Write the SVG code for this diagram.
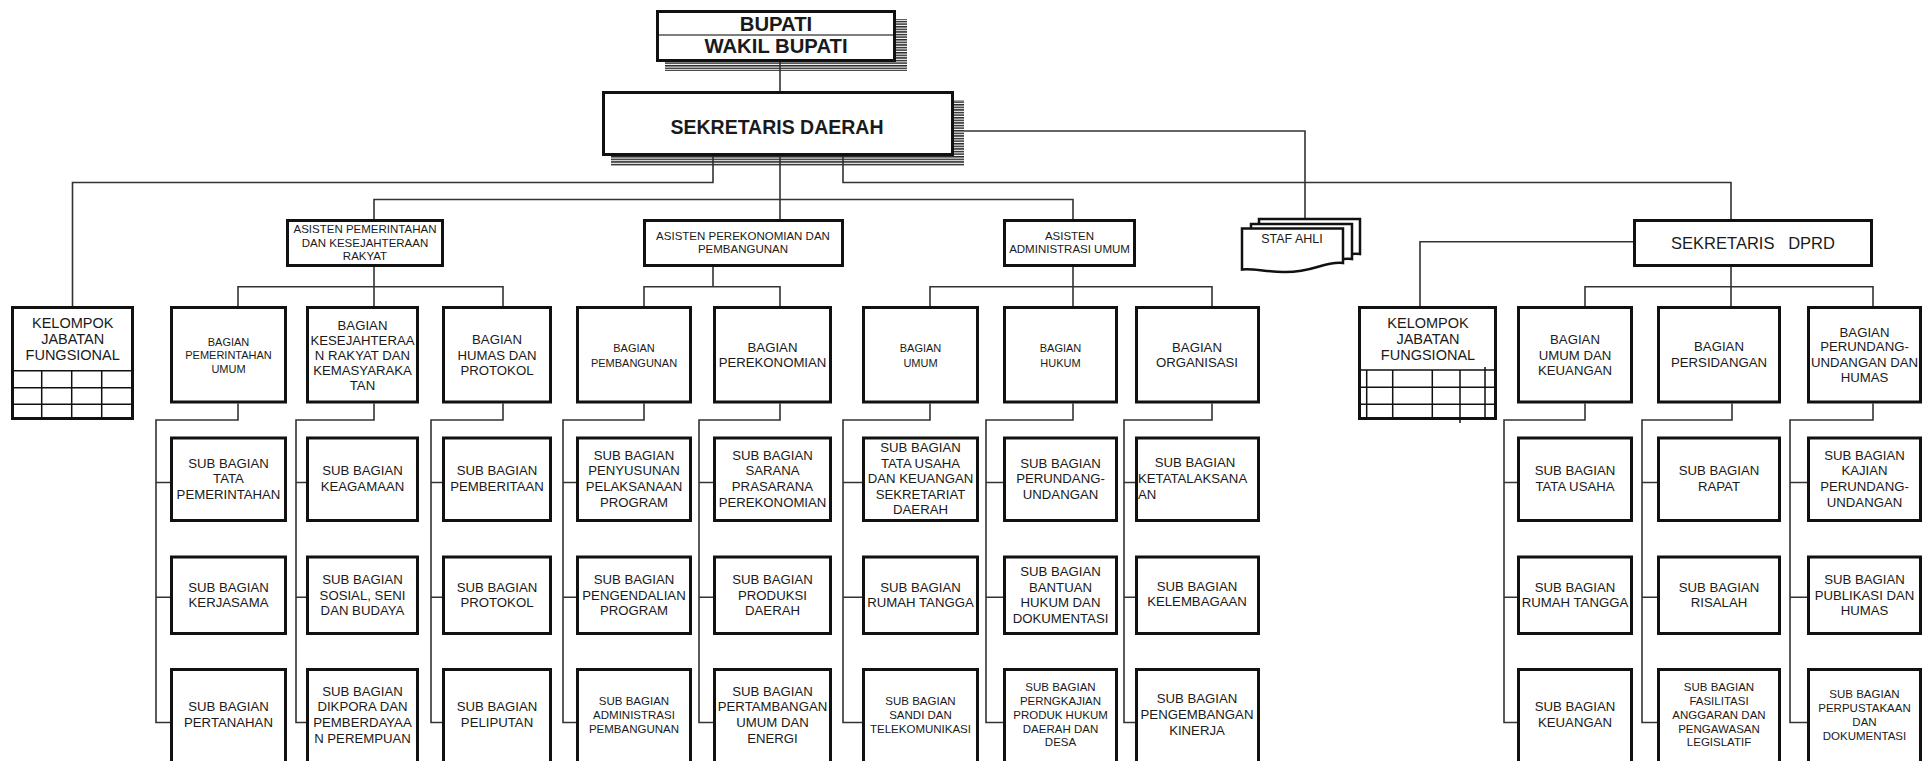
<svg xmlns="http://www.w3.org/2000/svg" width="1929" height="761" viewBox="0 0 1929 761">
<defs>
<pattern id="hatch" width="4" height="2.6" patternUnits="userSpaceOnUse"><rect width="4" height="1.5" fill="#2a2a2a"/></pattern>
<style>
.box{fill:#fff;stroke:#111;stroke-width:3}
.ln{fill:none;stroke:#333;stroke-width:1.6}
.gr{fill:none;stroke:#111;stroke-width:1.5}
.doc{fill:#fff;stroke:#111;stroke-width:2.5}
text{font-family:"Liberation Sans",Arial,sans-serif;fill:#1a1a1a;text-anchor:middle}
.b{font-weight:bold;font-size:20.3px}
.h{font-weight:bold;font-size:19.5px}
.a{font-size:11.5px}
.s{font-size:11.5px}
.m{font-size:13.2px}
.k{font-size:14.5px}
.d{font-size:16.5px}
</style>
</defs>
<rect width="1929" height="761" fill="#fff"/>

<g id="connectors" class="ln">
<path d="M780,62V91"/>
<path d="M713,156V182.5H72.5V306"/>
<path d="M843,156V182.5H1731V219"/>
<path d="M964,131H1305V219"/>
<path d="M780,156V219"/>
<path d="M374,219V199.5H1073V219"/>
<path d="M374,267V306M238,306V286.7H503V306"/>
<path d="M713,267V286.7M644,306V286.7H780V306"/>
<path d="M1073,267V306M930,306V286.7H1212V306"/>
<path d="M1633,241.7H1420V306M1731,267V306M1585,306V286.7H1873V306"/>
<path d="M238,403.5V420H156V722.5H170M156,482.5H170M156,597.3H170"/>
<path d="M374,403.5V420H296V722.5H306M296,482.5H306M296,597.3H306"/>
<path d="M503,403.5V420H431V722.5H442M431,482.5H442M431,597.3H442"/>
<path d="M644,403.5V420H563V722.5H576M563,482.5H576M563,597.3H576"/>
<path d="M780,403.5V420H699V722.5H713M699,482.5H713M699,597.3H713"/>
<path d="M930,403.5V420H843V722.5H862M843,482.5H862M843,597.3H862"/>
<path d="M1073,403.5V420H986V722.5H1003M986,482.5H1003M986,597.3H1003"/>
<path d="M1212,403.5V420H1124V722.5H1135M1124,482.5H1135M1124,597.3H1135"/>
<path d="M1585,403.5V420H1504V722.5H1517M1504,482.5H1517M1504,597.3H1517"/>
<path d="M1732,403.5V420H1642V722.5H1657M1642,482.5H1657M1642,597.3H1657"/>
<path d="M1873,403.5V420H1790V722.5H1807M1790,482.5H1807M1790,597.3H1807"/>
</g>

<g id="bupati">
<rect x="665" y="19" width="242" height="52" fill="url(#hatch)"/>
<rect class="box" x="657.5" y="11.5" width="237" height="49"/>
<line x1="659" y1="35" x2="893" y2="35" stroke="#555" stroke-width="1.3"/>
<text class="b" x="776" y="30.5">BUPATI</text>
<text class="b" x="776" y="53">WAKIL BUPATI</text>
</g>

<g id="sekda">
<rect x="611" y="100" width="353" height="66" fill="url(#hatch)"/>
<rect class="box" x="603.5" y="92.5" width="349" height="62"/>
<text class="h" x="777" y="134">SEKRETARIS DAERAH</text>
</g>

<g id="staf-ahli">
<path class="doc" d="M1259,219H1360V254C1340,252 1330,262 1300,262C1280,262 1268,258 1259,260Z"/>
<path class="doc" d="M1251,224H1352V259C1332,257 1322,267 1292,267C1272,267 1260,263 1251,265Z"/>
<path class="doc" d="M1242,228.5H1343V263C1323,261 1313,273 1283,272C1263,271.5 1252,268 1242,269.5Z"/>
<text class="m" style="font-size:12.5px" x="1292" y="242.5">STAF AHLI</text>
</g>

<g id="kjf-1">
<rect class="box" x="12.5" y="307.5" width="120" height="111"/>
<path class="gr" d="M12,370.7H133M12,387.7H133M12,404.3H133M41.7,370.7V419M71.7,370.7V419M101.7,370.7V419"/>
<text class="k"><tspan x="72.7" y="327.5">KELOMPOK</tspan><tspan x="72.7" y="343.5">JABATAN</tspan><tspan x="72.7" y="360.2">FUNGSIONAL</tspan></text>
</g>

<g id="asisten-pemerintahan">
<rect class="box" x="287.5" y="220.5" width="155" height="45"/>
<text class="a"><tspan x="365" y="233.4">ASISTEN PEMERINTAHAN</tspan><tspan x="365" y="246.8">DAN KESEJAHTERAAN</tspan><tspan x="365" y="260.1">RAKYAT</tspan></text>
</g>
<g id="asisten-perekonomian">
<rect class="box" x="644.5" y="220.5" width="198" height="45"/>
<text class="a"><tspan x="743" y="239.8">ASISTEN PEREKONOMIAN DAN</tspan><tspan x="743" y="253.4">PEMBANGUNAN</tspan></text>
</g>
<g id="asisten-administrasi">
<rect class="box" x="1004.5" y="220.5" width="130" height="45"/>
<text class="a"><tspan x="1069.5" y="239.8">ASISTEN</tspan><tspan x="1069.5" y="253.4">ADMINISTRASI UMUM</tspan></text>
</g>
<g id="sekretaris-dprd">
<rect class="box" x="1634.5" y="220.5" width="237" height="45"/>
<text class="d" x="1753" y="249.2" xml:space="preserve">SEKRETARIS   DPRD</text>
</g>

<g id="bagian-pemerintahan-umum">
<rect class="box" x="171.5" y="307.5" width="114" height="94.5"/>
<text class="s" style="font-size:11px"><tspan x="228.5" y="345.7">BAGIAN</tspan><tspan x="228.5" y="359">PEMERINTAHAN</tspan><tspan x="228.5" y="373">UMUM</tspan></text>
</g>
<g id="bagian-kesra">
<rect class="box" x="307.5" y="307.5" width="110" height="94.5"/>
<text class="m"><tspan x="362.5" y="329.8">BAGIAN</tspan><tspan x="362.5" y="344.8">KESEJAHTERAA</tspan><tspan x="362.5" y="359.8">N RAKYAT DAN</tspan><tspan x="362.5" y="374.8">KEMASYARAKA</tspan><tspan x="362.5" y="389.8">TAN</tspan></text>
</g>
<g id="bagian-humas">
<rect class="box" x="443.5" y="307.5" width="107" height="94.5"/>
<text class="m"><tspan x="497" y="343.8">BAGIAN</tspan><tspan x="497" y="359.7">HUMAS DAN</tspan><tspan x="497" y="374.8">PROTOKOL</tspan></text>
</g>
<g id="bagian-pembangunan">
<rect class="box" x="577.5" y="307.5" width="113" height="94.5"/>
<text class="s" style="font-size:11px"><tspan x="634" y="352.3">BAGIAN</tspan><tspan x="634" y="366.7">PEMBANGUNAN</tspan></text>
</g>
<g id="bagian-perekonomian">
<rect class="box" x="714.5" y="307.5" width="116" height="94.5"/>
<text class="m"><tspan x="772.5" y="351.7">BAGIAN</tspan><tspan x="772.5" y="367.4">PEREKONOMIAN</tspan></text>
</g>
<g id="bagian-umum">
<rect class="box" x="863.5" y="307.5" width="114" height="94.5"/>
<text class="s" style="font-size:11px"><tspan x="920.5" y="352.3">BAGIAN</tspan><tspan x="920.5" y="366.7">UMUM</tspan></text>
</g>
<g id="bagian-hukum">
<rect class="box" x="1004.5" y="307.5" width="112" height="94.5"/>
<text class="s" style="font-size:11px"><tspan x="1060.5" y="352.3">BAGIAN</tspan><tspan x="1060.5" y="366.7">HUKUM</tspan></text>
</g>
<g id="bagian-organisasi">
<rect class="box" x="1136.5" y="307.5" width="122" height="94.5"/>
<text class="m"><tspan x="1197" y="352">BAGIAN</tspan><tspan x="1197" y="367.4">ORGANISASI</tspan></text>
</g>

<g id="kjf-2">
<rect class="box" x="1359.5" y="307.5" width="136" height="111"/>
<path class="gr" d="M1359,370H1496M1359,387.3H1496M1359,404.3H1496M1366.7,370V419M1392.7,370V419M1432.3,370V419M1460,370V423M1485,367V419"/>
<text class="k"><tspan x="1428" y="327.5">KELOMPOK</tspan><tspan x="1428" y="343.5">JABATAN</tspan><tspan x="1428" y="360.2">FUNGSIONAL</tspan></text>
</g>
<g id="bagian-umum-keuangan">
<rect class="box" x="1518.5" y="307.5" width="113" height="94.5"/>
<text class="m"><tspan x="1575" y="343.8">BAGIAN</tspan><tspan x="1575" y="359.7">UMUM DAN</tspan><tspan x="1575" y="374.8">KEUANGAN</tspan></text>
</g>
<g id="bagian-persidangan">
<rect class="box" x="1658.5" y="307.5" width="121" height="94.5"/>
<text class="m"><tspan x="1719" y="351.4">BAGIAN</tspan><tspan x="1719" y="367.4">PERSIDANGAN</tspan></text>
</g>
<g id="bagian-perundangan-humas">
<rect class="box" x="1808.5" y="307.5" width="112" height="94.5"/>
<text class="m"><tspan x="1864.5" y="337">BAGIAN</tspan><tspan x="1864.5" y="351.4">PERUNDANG-</tspan><tspan x="1864.5" y="367.4">UNDANGAN DAN</tspan><tspan x="1864.5" y="382">HUMAS</tspan></text>
</g>

<g id="sub-tata-pemerintahan"><rect class="box" x="171.5" y="438" width="114" height="82.5"/>
<text class="m"><tspan x="228.5" y="467.6">SUB BAGIAN</tspan><tspan x="228.5" y="483.2">TATA</tspan><tspan x="228.5" y="498.8">PEMERINTAHAN</tspan></text></g>
<g id="sub-kerjasama"><rect class="box" x="171.5" y="557" width="114" height="76.5"/>
<text class="m"><tspan x="228.5" y="591.7">SUB BAGIAN</tspan><tspan x="228.5" y="607.3">KERJASAMA</tspan></text></g>
<g id="sub-pertanahan"><rect class="box" x="171.5" y="669.5" width="114" height="100"/>
<text class="m"><tspan x="228.5" y="711.4">SUB BAGIAN</tspan><tspan x="228.5" y="727">PERTANAHAN</tspan></text></g>

<g id="sub-keagamaan"><rect class="box" x="307.5" y="438" width="110" height="82.5"/>
<text class="m"><tspan x="362.5" y="475.4">SUB BAGIAN</tspan><tspan x="362.5" y="491">KEAGAMAAN</tspan></text></g>
<g id="sub-sosial"><rect class="box" x="307.5" y="557" width="110" height="76.5"/>
<text class="m"><tspan x="362.5" y="583.9">SUB BAGIAN</tspan><tspan x="362.5" y="599.5">SOSIAL, SENI</tspan><tspan x="362.5" y="615.1">DAN BUDAYA</tspan></text></g>
<g id="sub-dikpora"><rect class="box" x="307.5" y="669.5" width="110" height="100"/>
<text class="m"><tspan x="362.5" y="695.8">SUB BAGIAN</tspan><tspan x="362.5" y="711.4">DIKPORA DAN</tspan><tspan x="362.5" y="727">PEMBERDAYAA</tspan><tspan x="362.5" y="742.6">N PEREMPUAN</tspan></text></g>

<g id="sub-pemberitaan"><rect class="box" x="443.5" y="438" width="107" height="82.5"/>
<text class="m"><tspan x="497" y="475.4">SUB BAGIAN</tspan><tspan x="497" y="491">PEMBERITAAN</tspan></text></g>
<g id="sub-protokol"><rect class="box" x="443.5" y="557" width="107" height="76.5"/>
<text class="m"><tspan x="497" y="591.7">SUB BAGIAN</tspan><tspan x="497" y="607.3">PROTOKOL</tspan></text></g>
<g id="sub-peliputan"><rect class="box" x="443.5" y="669.5" width="107" height="100"/>
<text class="m"><tspan x="497" y="711.4">SUB BAGIAN</tspan><tspan x="497" y="727">PELIPUTAN</tspan></text></g>

<g id="sub-penyusunan"><rect class="box" x="577.5" y="438" width="113" height="82.5"/>
<text class="m"><tspan x="634" y="459.8">SUB BAGIAN</tspan><tspan x="634" y="475.4">PENYUSUNAN</tspan><tspan x="634" y="491">PELAKSANAAN</tspan><tspan x="634" y="506.6">PROGRAM</tspan></text></g>
<g id="sub-pengendalian"><rect class="box" x="577.5" y="557" width="113" height="76.5"/>
<text class="m"><tspan x="634" y="583.9">SUB BAGIAN</tspan><tspan x="634" y="599.5">PENGENDALIAN</tspan><tspan x="634" y="615.1">PROGRAM</tspan></text></g>
<g id="sub-administrasi-pembangunan"><rect class="box" x="577.5" y="669.5" width="113" height="100"/>
<text class="s"><tspan x="634" y="704.7">SUB BAGIAN</tspan><tspan x="634" y="718.6">ADMINISTRASI</tspan><tspan x="634" y="732.5">PEMBANGUNAN</tspan></text></g>

<g id="sub-sarana"><rect class="box" x="714.5" y="438" width="116" height="82.5"/>
<text class="m"><tspan x="772.5" y="459.8">SUB BAGIAN</tspan><tspan x="772.5" y="475.4">SARANA</tspan><tspan x="772.5" y="491">PRASARANA</tspan><tspan x="772.5" y="506.6">PEREKONOMIAN</tspan></text></g>
<g id="sub-produksi"><rect class="box" x="714.5" y="557" width="116" height="76.5"/>
<text class="m"><tspan x="772.5" y="583.9">SUB BAGIAN</tspan><tspan x="772.5" y="599.5">PRODUKSI</tspan><tspan x="772.5" y="615.1">DAERAH</tspan></text></g>
<g id="sub-pertambangan"><rect class="box" x="714.5" y="669.5" width="116" height="100"/>
<text class="m"><tspan x="772.5" y="695.8">SUB BAGIAN</tspan><tspan x="772.5" y="711.4">PERTAMBANGAN</tspan><tspan x="772.5" y="727">UMUM DAN</tspan><tspan x="772.5" y="742.6">ENERGI</tspan></text></g>

<g id="sub-tata-usaha-keuangan"><rect class="box" x="863.5" y="438" width="114" height="82.5"/>
<text class="m"><tspan x="920.5" y="452">SUB BAGIAN</tspan><tspan x="920.5" y="467.6">TATA USAHA</tspan><tspan x="920.5" y="483.2">DAN KEUANGAN</tspan><tspan x="920.5" y="498.8">SEKRETARIAT</tspan><tspan x="920.5" y="514.4">DAERAH</tspan></text></g>
<g id="sub-rumah-tangga"><rect class="box" x="863.5" y="557" width="114" height="76.5"/>
<text class="m"><tspan x="920.5" y="591.7">SUB BAGIAN</tspan><tspan x="920.5" y="607.3">RUMAH TANGGA</tspan></text></g>
<g id="sub-sandi"><rect class="box" x="863.5" y="669.5" width="114" height="100"/>
<text class="s"><tspan x="920.5" y="704.7">SUB BAGIAN</tspan><tspan x="920.5" y="718.6">SANDI DAN</tspan><tspan x="920.5" y="732.5">TELEKOMUNIKASI</tspan></text></g>

<g id="sub-perundang-undangan"><rect class="box" x="1004.5" y="438" width="112" height="82.5"/>
<text class="m"><tspan x="1060.5" y="467.6">SUB BAGIAN</tspan><tspan x="1060.5" y="483.2">PERUNDANG-</tspan><tspan x="1060.5" y="498.8">UNDANGAN</tspan></text></g>
<g id="sub-bantuan-hukum"><rect class="box" x="1004.5" y="557" width="112" height="76.5"/>
<text class="m"><tspan x="1060.5" y="576.1">SUB BAGIAN</tspan><tspan x="1060.5" y="591.7">BANTUAN</tspan><tspan x="1060.5" y="607.3">HUKUM DAN</tspan><tspan x="1060.5" y="622.9">DOKUMENTASI</tspan></text></g>
<g id="sub-pengkajian"><rect class="box" x="1004.5" y="669.5" width="112" height="100"/>
<text class="s"><tspan x="1060.5" y="690.8">SUB BAGIAN</tspan><tspan x="1060.5" y="704.7">PERNGKAJIAN</tspan><tspan x="1060.5" y="718.6">PRODUK HUKUM</tspan><tspan x="1060.5" y="732.5">DAERAH DAN</tspan><tspan x="1060.5" y="746.4">DESA</tspan></text></g>

<g id="sub-ketatalaksanaan"><rect class="box" x="1136.5" y="438" width="122" height="82.5"/>
<text class="m"><tspan x="1195" y="467.4">SUB BAGIAN</tspan><tspan x="1138" y="483.4" style="text-anchor:start">KETATALAKSANA</tspan><tspan x="1138" y="498.7" style="text-anchor:start">AN</tspan></text></g>
<g id="sub-kelembagaan"><rect class="box" x="1136.5" y="557" width="122" height="76.5"/>
<text class="m"><tspan x="1197" y="590.7">SUB BAGIAN</tspan><tspan x="1197" y="606.4">KELEMBAGAAN</tspan></text></g>
<g id="sub-pengembangan-kinerja"><rect class="box" x="1136.5" y="669.5" width="122" height="100"/>
<text class="m"><tspan x="1197" y="703">SUB BAGIAN</tspan><tspan x="1197" y="719">PENGEMBANGAN</tspan><tspan x="1197" y="734.7">KINERJA</tspan></text></g>

<g id="sub-tata-usaha"><rect class="box" x="1518.5" y="438" width="113" height="82.5"/>
<text class="m"><tspan x="1575" y="475.4">SUB BAGIAN</tspan><tspan x="1575" y="491">TATA USAHA</tspan></text></g>
<g id="sub-rumah-tangga-dprd"><rect class="box" x="1518.5" y="557" width="113" height="76.5"/>
<text class="m"><tspan x="1575" y="591.7">SUB BAGIAN</tspan><tspan x="1575" y="607.3">RUMAH TANGGA</tspan></text></g>
<g id="sub-keuangan"><rect class="box" x="1518.5" y="669.5" width="113" height="100"/>
<text class="m"><tspan x="1575" y="711.4">SUB BAGIAN</tspan><tspan x="1575" y="727">KEUANGAN</tspan></text></g>

<g id="sub-rapat"><rect class="box" x="1658.5" y="438" width="121" height="82.5"/>
<text class="m"><tspan x="1719" y="475.4">SUB BAGIAN</tspan><tspan x="1719" y="491">RAPAT</tspan></text></g>
<g id="sub-risalah"><rect class="box" x="1658.5" y="557" width="121" height="76.5"/>
<text class="m"><tspan x="1719" y="591.7">SUB BAGIAN</tspan><tspan x="1719" y="607.3">RISALAH</tspan></text></g>
<g id="sub-fasilitasi"><rect class="box" x="1658.5" y="669.5" width="121" height="100"/>
<text class="s"><tspan x="1719" y="690.8">SUB BAGIAN</tspan><tspan x="1719" y="704.7">FASILITASI</tspan><tspan x="1719" y="718.6">ANGGARAN DAN</tspan><tspan x="1719" y="732.5">PENGAWASAN</tspan><tspan x="1719" y="746.4">LEGISLATIF</tspan></text></g>

<g id="sub-kajian"><rect class="box" x="1808.5" y="438" width="112" height="82.5"/>
<text class="m"><tspan x="1864.5" y="459.8">SUB BAGIAN</tspan><tspan x="1864.5" y="475.4">KAJIAN</tspan><tspan x="1864.5" y="491">PERUNDANG-</tspan><tspan x="1864.5" y="506.6">UNDANGAN</tspan></text></g>
<g id="sub-publikasi"><rect class="box" x="1808.5" y="557" width="112" height="76.5"/>
<text class="m"><tspan x="1864.5" y="583.9">SUB BAGIAN</tspan><tspan x="1864.5" y="599.5">PUBLIKASI DAN</tspan><tspan x="1864.5" y="615.1">HUMAS</tspan></text></g>
<g id="sub-perpustakaan"><rect class="box" x="1808.5" y="669.5" width="112" height="100"/>
<text class="s"><tspan x="1864.5" y="697.8">SUB BAGIAN</tspan><tspan x="1864.5" y="711.7">PERPUSTAKAAN</tspan><tspan x="1864.5" y="725.6">DAN</tspan><tspan x="1864.5" y="739.5">DOKUMENTASI</tspan></text></g>
</svg>
